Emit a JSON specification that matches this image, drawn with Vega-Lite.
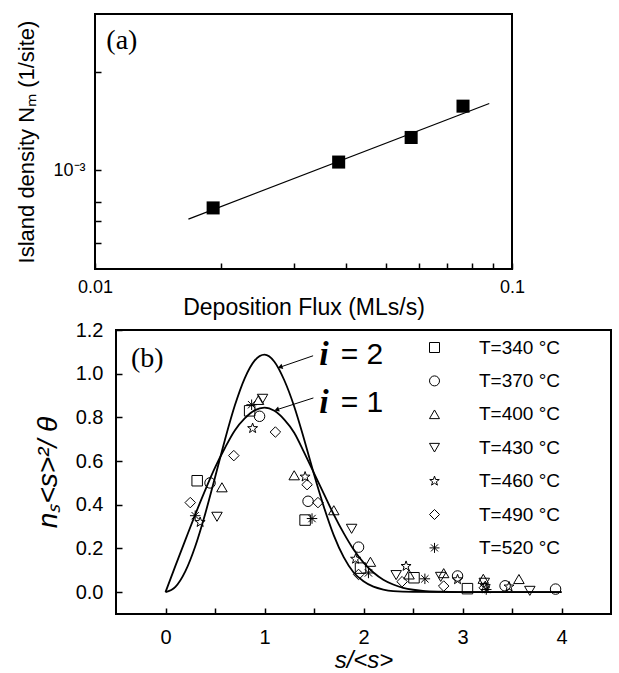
{
  "$schema": "https://vega.github.io/schema/vega-lite/v6.json",
  "background": "white",
  "padding": {"left": 0, "top": 13, "right": 0, "bottom": 0},
  "spacing": -1,
  "resolve": {"scale": {"shape": "independent"}},
  "datasets": {
    "fit": [
      {"flux": 0.01675, "density": 0.00071},
      {"flux": 0.0882, "density": 0.0016}
    ],
    "flux": [
      {"flux": 0.0192, "density": 0.000768},
      {"flux": 0.0384, "density": 0.00106},
      {"flux": 0.0573, "density": 0.00126},
      {"flux": 0.0763, "density": 0.00157}
    ],
    "labA": [{"flux": 0.0116, "density": 0.00248, "label": "(a)"}],
    "empty": [],
    "curves": [
      {"curve": "i=1", "x": 0, "y": 0}, {"curve": "i=1", "x": 0.1, "y": 0.12}, {"curve": "i=1", "x": 0.2, "y": 0.238},
      {"curve": "i=1", "x": 0.3, "y": 0.355}, {"curve": "i=1", "x": 0.4, "y": 0.466}, {"curve": "i=1", "x": 0.5, "y": 0.57},
      {"curve": "i=1", "x": 0.6, "y": 0.66}, {"curve": "i=1", "x": 0.7, "y": 0.74}, {"curve": "i=1", "x": 0.8, "y": 0.795},
      {"curve": "i=1", "x": 0.9, "y": 0.832}, {"curve": "i=1", "x": 1.0, "y": 0.845}, {"curve": "i=1", "x": 1.1, "y": 0.83},
      {"curve": "i=1", "x": 1.2, "y": 0.79}, {"curve": "i=1", "x": 1.3, "y": 0.73}, {"curve": "i=1", "x": 1.4, "y": 0.64},
      {"curve": "i=1", "x": 1.5, "y": 0.545}, {"curve": "i=1", "x": 1.6, "y": 0.45}, {"curve": "i=1", "x": 1.7, "y": 0.355},
      {"curve": "i=1", "x": 1.8, "y": 0.27}, {"curve": "i=1", "x": 1.9, "y": 0.195}, {"curve": "i=1", "x": 2.0, "y": 0.135},
      {"curve": "i=1", "x": 2.1, "y": 0.09}, {"curve": "i=1", "x": 2.2, "y": 0.057}, {"curve": "i=1", "x": 2.3, "y": 0.035},
      {"curve": "i=1", "x": 2.4, "y": 0.02}, {"curve": "i=1", "x": 2.5, "y": 0.011}, {"curve": "i=1", "x": 2.6, "y": 0.006},
      {"curve": "i=1", "x": 2.8, "y": 0.002}, {"curve": "i=1", "x": 3.0, "y": 0}, {"curve": "i=1", "x": 4.0, "y": 0},
      {"curve": "i=2", "x": 0, "y": 0}, {"curve": "i=2", "x": 0.1, "y": 0.024}, {"curve": "i=2", "x": 0.2, "y": 0.095},
      {"curve": "i=2", "x": 0.3, "y": 0.209}, {"curve": "i=2", "x": 0.4, "y": 0.357}, {"curve": "i=2", "x": 0.5, "y": 0.525},
      {"curve": "i=2", "x": 0.6, "y": 0.697}, {"curve": "i=2", "x": 0.7, "y": 0.854}, {"curve": "i=2", "x": 0.8, "y": 0.979},
      {"curve": "i=2", "x": 0.9, "y": 1.06}, {"curve": "i=2", "x": 1.0, "y": 1.087}, {"curve": "i=2", "x": 1.1, "y": 1.055},
      {"curve": "i=2", "x": 1.2, "y": 0.97}, {"curve": "i=2", "x": 1.3, "y": 0.85}, {"curve": "i=2", "x": 1.4, "y": 0.70},
      {"curve": "i=2", "x": 1.5, "y": 0.54}, {"curve": "i=2", "x": 1.6, "y": 0.39}, {"curve": "i=2", "x": 1.7, "y": 0.26},
      {"curve": "i=2", "x": 1.8, "y": 0.16}, {"curve": "i=2", "x": 1.9, "y": 0.09}, {"curve": "i=2", "x": 2.0, "y": 0.05},
      {"curve": "i=2", "x": 2.1, "y": 0.025}, {"curve": "i=2", "x": 2.2, "y": 0.012}, {"curve": "i=2", "x": 2.3, "y": 0.005},
      {"curve": "i=2", "x": 2.5, "y": 0.001}, {"curve": "i=2", "x": 3.0, "y": 0}, {"curve": "i=2", "x": 4.0, "y": 0}
    ],
    "scaling": [
      {"T": "T=340 °C", "x": 0.32, "y": 0.51}, {"T": "T=340 °C", "x": 0.85, "y": 0.83}, {"T": "T=340 °C", "x": 1.41, "y": 0.33},
      {"T": "T=340 °C", "x": 1.97, "y": 0.11}, {"T": "T=340 °C", "x": 2.51, "y": 0.066}, {"T": "T=340 °C", "x": 3.05, "y": 0.016},
      {"T": "T=370 °C", "x": 0.45, "y": 0.5}, {"T": "T=370 °C", "x": 0.95, "y": 0.805}, {"T": "T=370 °C", "x": 1.44, "y": 0.416},
      {"T": "T=370 °C", "x": 1.95, "y": 0.206}, {"T": "T=370 °C", "x": 2.95, "y": 0.074}, {"T": "T=370 °C", "x": 3.43, "y": 0.029},
      {"T": "T=370 °C", "x": 3.94, "y": 0.014},
      {"T": "T=400 °C", "x": 0.57, "y": 0.48}, {"T": "T=400 °C", "x": 0.94, "y": 0.88}, {"T": "T=400 °C", "x": 1.3, "y": 0.535},
      {"T": "T=400 °C", "x": 1.7, "y": 0.375}, {"T": "T=400 °C", "x": 2.07, "y": 0.139}, {"T": "T=400 °C", "x": 2.46, "y": 0.081},
      {"T": "T=400 °C", "x": 2.81, "y": 0.087}, {"T": "T=400 °C", "x": 3.21, "y": 0.061}, {"T": "T=400 °C", "x": 3.57, "y": 0.06},
      {"T": "T=430 °C", "x": 0.52, "y": 0.345}, {"T": "T=430 °C", "x": 0.98, "y": 0.885}, {"T": "T=430 °C", "x": 1.88, "y": 0.29},
      {"T": "T=430 °C", "x": 2.33, "y": 0.078}, {"T": "T=430 °C", "x": 2.78, "y": 0.07}, {"T": "T=430 °C", "x": 3.22, "y": 0.043},
      {"T": "T=430 °C", "x": 3.68, "y": 0.006},
      {"T": "T=460 °C", "x": 0.35, "y": 0.32}, {"T": "T=460 °C", "x": 0.88, "y": 0.75}, {"T": "T=460 °C", "x": 1.41, "y": 0.528},
      {"T": "T=460 °C", "x": 1.92, "y": 0.152}, {"T": "T=460 °C", "x": 2.43, "y": 0.119}, {"T": "T=460 °C", "x": 2.95, "y": 0.058},
      {"T": "T=460 °C", "x": 3.23, "y": 0.027}, {"T": "T=460 °C", "x": 3.47, "y": 0.025},
      {"T": "T=490 °C", "x": 0.25, "y": 0.41}, {"T": "T=490 °C", "x": 0.69, "y": 0.625}, {"T": "T=490 °C", "x": 1.11, "y": 0.733},
      {"T": "T=490 °C", "x": 1.43, "y": 0.492}, {"T": "T=490 °C", "x": 1.54, "y": 0.41}, {"T": "T=490 °C", "x": 1.95, "y": 0.081},
      {"T": "T=490 °C", "x": 2.39, "y": 0.048}, {"T": "T=490 °C", "x": 2.81, "y": 0.028}, {"T": "T=490 °C", "x": 3.22, "y": 0.02},
      {"T": "T=520 °C", "x": 0.3, "y": 0.35}, {"T": "T=520 °C", "x": 0.87, "y": 0.858}, {"T": "T=520 °C", "x": 1.48, "y": 0.337},
      {"T": "T=520 °C", "x": 2.05, "y": 0.088}, {"T": "T=520 °C", "x": 2.62, "y": 0.061}, {"T": "T=520 °C", "x": 3.24, "y": 0.012}
    ],
    "labB": [{"x": -0.184, "y": 1.069, "label": "(b)"}],
    "iLab": [{"x": 1.6, "y": 1.087, "label": "i"}, {"x": 1.6, "y": 0.867, "label": "i"}],
    "eqLab": [{"x": 1.77, "y": 1.087, "label": "= 2"}, {"x": 1.77, "y": 0.867, "label": "= 1"}],
    "arrows": [
      {"x": 1.491, "y": 1.082, "x2": 1.158, "y2": 1.03},
      {"x": 1.494, "y": 0.889, "x2": 1.123, "y2": 0.835}
    ]
  },
  "vconcat": [
    {
      "spacing": 0,
      "hconcat": [
        {"width": 14, "height": 1, "data": {"name": "empty"}, "mark": {"type": "point"}, "view": {"stroke": null}},
        {
          "width": 417,
          "height": 255,
          "layer": [
            {
              "data": {"name": "fit"},
              "mark": {"type": "line", "color": "black", "strokeWidth": 1.2},
              "encoding": {
                "x": {
                  "field": "flux", "type": "quantitative",
                  "scale": {"type": "log", "domain": [0.01, 0.1], "nice": false},
                  "axis": {
                    "title": "Deposition Flux (MLs/s)",
                    "values": [0.01, 0.02, 0.03, 0.04, 0.05, 0.06, 0.07, 0.08, 0.09, 0.1],
                    "labelExpr": "datum.value < 0.015 ? '0.01' : (datum.value > 0.095 ? '0.1' : '')",
                    "labelPadding": 15, "titlePadding": 0, "labelFontSize": 18, "titleFontSize": 23
                  }
                },
                "y": {
                  "field": "density", "type": "quantitative",
                  "scale": {"type": "log", "domain": [0.0005, 0.003], "nice": false},
                  "axis": {
                    "title": "Island density Nₘ (1/site)",
                    "values": [0.0006, 0.0007, 0.0008, 0.001, 0.002],
                    "labelExpr": "abs(datum.value - 0.001) < 0.00001 ? '10⁻³' : ''",
                    "labelPadding": 16, "titlePadding": 14, "labelFontSize": 18, "titleFontSize": 22
                  }
                }
              }
            },
            {
              "data": {"name": "flux"},
              "mark": {"type": "point", "shape": "square", "filled": true, "color": "black", "size": 170, "opacity": 1},
              "encoding": {
                "x": {"field": "flux", "type": "quantitative"},
                "y": {"field": "density", "type": "quantitative"}
              }
            },
            {
              "data": {"name": "labA"},
              "mark": {"type": "text", "font": "Liberation Serif", "fontSize": 28, "align": "center", "baseline": "middle", "color": "black"},
              "encoding": {
                "x": {"field": "flux", "type": "quantitative"},
                "y": {"field": "density", "type": "quantitative"},
                "text": {"field": "label"}
              }
            }
          ]
        }
      ]
    },
    {
      "spacing": 0,
      "resolve": {"scale": {"shape": "independent"}},
      "hconcat": [
        {"width": 33, "height": 1, "data": {"name": "empty"}, "mark": {"type": "point"}, "view": {"stroke": null}},
        {
          "width": 495,
          "height": 284,
          "layer": [
            {
              "data": {"name": "curves"},
              "mark": {"type": "line", "color": "black", "strokeWidth": 1.8, "interpolate": "monotone"},
              "encoding": {
                "x": {
                  "field": "x", "type": "quantitative",
                  "scale": {"domain": [-0.5, 4.5], "nice": false, "zero": false},
                  "axis": {
                    "title": "s/<s>",
                    "values": [0, 0.5, 1, 1.5, 2, 2.5, 3, 3.5, 4],
                    "labelExpr": "datum.value % 1 == 0 ? format(datum.value, 'd') : ''",
                    "labelPadding": 19, "titlePadding": 1, "labelFontSize": 20,
                    "titleFontSize": 24, "titleFontStyle": "italic"
                  }
                },
                "y": {
                  "field": "y", "type": "quantitative",
                  "scale": {"domain": [-0.1, 1.2], "nice": false, "zero": false},
                  "axis": {
                    "title": "nₛ<s>²/ θ",
                    "values": [0, 0.1, 0.2, 0.3, 0.4, 0.5, 0.6, 0.7, 0.8, 0.9, 1.0, 1.1, 1.2],
                    "labelExpr": "round(datum.value * 10) % 2 == 0 ? format(datum.value, '.1f') : ''",
                    "labelPadding": 19, "titlePadding": 13, "labelFontSize": 20,
                    "titleFontSize": 28, "titleFontStyle": "italic"
                  }
                },
                "detail": {"field": "curve"}
              }
            },
            {
              "data": {"name": "scaling"},
              "mark": {"type": "point", "filled": false, "color": "black", "strokeWidth": 1, "size": 110, "opacity": 1},
              "encoding": {
                "x": {"field": "x", "type": "quantitative"},
                "y": {"field": "y", "type": "quantitative"},
                "shape": {
                  "field": "T", "type": "nominal",
                  "scale": {
                    "domain": ["T=340 °C", "T=370 °C", "T=400 °C", "T=430 °C", "T=460 °C", "T=490 °C", "T=520 °C"],
                    "range": [
                      "square", "circle", "triangle-up", "triangle-down",
                      "M0,-1L0.235,-0.324L0.951,-0.309L0.38,0.124L0.588,0.809L0,0.4L-0.588,0.809L-0.38,0.124L-0.951,-0.309L-0.235,-0.324Z",
                      "diamond",
                      "M-1,0L1,0M0,-1L0,1M-0.7,-0.7L0.7,0.7M-0.7,0.7L0.7,-0.7"
                    ]
                  },
                  "legend": {
                    "orient": "none", "legendX": 309, "legendY": 8, "title": null,
                    "labelFont": "Liberation Sans", "labelFontSize": 19, "labelColor": "black",
                    "labelOffset": 35, "rowPadding": 13.4, "symbolSize": 100, "symbolStrokeWidth": 1,
                    "symbolStrokeColor": "black", "padding": 0
                  }
                }
              }
            },
            {
              "data": {"name": "arrows"},
              "mark": {"type": "rule", "color": "black", "strokeWidth": 1},
              "encoding": {
                "x": {"field": "x", "type": "quantitative"},
                "y": {"field": "y", "type": "quantitative"},
                "x2": {"field": "x2"},
                "y2": {"field": "y2"}
              }
            },
            {
              "data": {"name": "arrows"},
              "mark": {"type": "point", "shape": "triangle-up", "filled": true, "color": "black", "size": 30, "angle": 252, "opacity": 1},
              "encoding": {
                "x": {"field": "x2", "type": "quantitative"},
                "y": {"field": "y2", "type": "quantitative"}
              }
            },
            {
              "data": {"name": "labB"},
              "mark": {"type": "text", "font": "Liberation Serif", "fontSize": 28, "align": "center", "baseline": "middle", "color": "black"},
              "encoding": {
                "x": {"field": "x", "type": "quantitative"},
                "y": {"field": "y", "type": "quantitative"},
                "text": {"field": "label"}
              }
            },
            {
              "data": {"name": "iLab"},
              "mark": {"type": "text", "font": "Liberation Serif", "fontSize": 34, "fontStyle": "italic", "fontWeight": "bold", "align": "center", "baseline": "middle", "color": "black"},
              "encoding": {
                "x": {"field": "x", "type": "quantitative"},
                "y": {"field": "y", "type": "quantitative"},
                "text": {"field": "label"}
              }
            },
            {
              "data": {"name": "eqLab"},
              "mark": {"type": "text", "font": "Liberation Sans", "fontSize": 30, "align": "left", "baseline": "middle", "color": "black"},
              "encoding": {
                "x": {"field": "x", "type": "quantitative"},
                "y": {"field": "y", "type": "quantitative"},
                "text": {"field": "label"}
              }
            }
          ]
        }
      ]
    }
  ],
  "config": {
    "view": {"stroke": "black", "strokeWidth": 2},
    "font": "Liberation Sans",
    "axis": {
      "grid": false, "domain": false, "tickSize": -6, "tickColor": "black", "tickWidth": 1.5,
      "labelColor": "black", "titleColor": "black", "labelFont": "Liberation Sans",
      "titleFont": "Liberation Sans", "titleFontWeight": "normal", "labelFlush": false,
      "labelOverlap": false
    }
  }
}
